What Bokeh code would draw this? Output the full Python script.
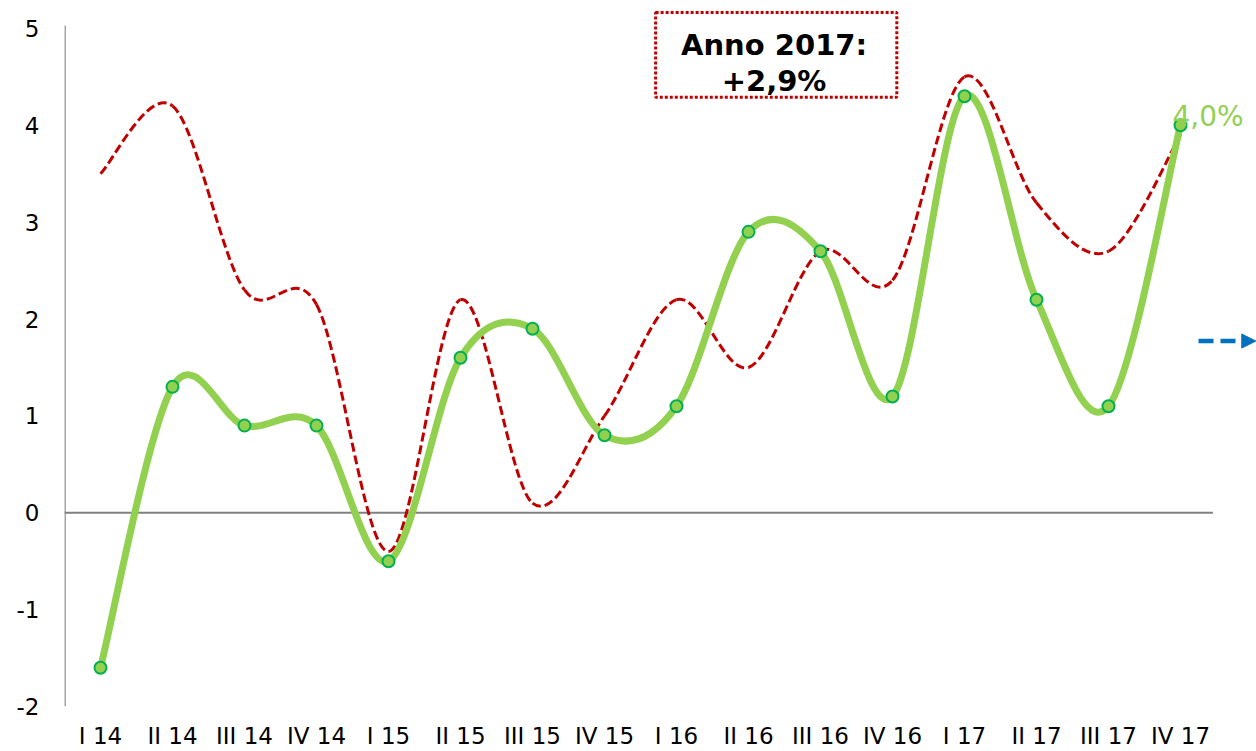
from bokeh.plotting import figure
from bokeh.models import Range1d, FixedTicker, Arrow, NormalHead
from bokeh.core.properties import value
from bokeh.embed import file_html
from bokeh.resources import INLINE

# ---------------- data ----------------
categories = ["I 14", "II 14", "III 14", "IV 14", "I 15", "II 15", "III 15", "IV 15",
              "I 16", "II 16", "III 16", "IV 16", "I 17", "II 17", "III 17", "IV 17"]
green_values = [-1.6, 1.3, 0.9, 0.9, -0.5, 1.6, 1.9, 0.8, 1.1, 2.9, 2.7, 1.2, 4.3, 2.2, 1.1, 4.0]
red_values = [3.5, 4.2, 2.3, 2.15, -0.4, 2.2, 0.1, 1.0, 2.2, 1.5, 2.7, 2.4, 4.5, 3.2, 2.7, 3.9]
y_ticks = [-2, -1, 0, 1, 2, 3, 4, 5]
y_tick_labels = ["-2", "-1", "0", "1", "2", "3", "4", "5"]
box_lines = ["Anno 2017:", "+2,9%"]
last_label = "4,0%"

# ---------------- layout constants ----------------
W, H = 1256, 751
BORDER_LEFT, BORDER_BOTTOM = 64, 44
FRAME_W, FRAME_H = W - BORDER_LEFT, H - BORDER_BOTTOM
PX_PER_CAT = 72.0
PX_PER_UNIT = 97.0
Y_MIN = -2

x_start = -0.5
x_end = x_start + FRAME_W / PX_PER_CAT
y_start = Y_MIN
y_end = Y_MIN + FRAME_H / PX_PER_UNIT

xs = list(range(len(categories)))


def smooth_segments(xv, yv):
    """Bezier control points reproducing a spreadsheet 'smoothed line'."""
    n = len(xv)
    seg = dict(x0=[], y0=[], x1=[], y1=[], cx0=[], cy0=[], cx1=[], cy1=[])
    for i in range(n - 1):
        im = i - 1 if i > 0 else i
        ip = i + 2 if i + 2 < n else i + 1
        seg["x0"].append(xv[i]); seg["y0"].append(yv[i])
        seg["x1"].append(xv[i + 1]); seg["y1"].append(yv[i + 1])
        seg["cx0"].append(xv[i] + (xv[i + 1] - xv[im]) / 6.0)
        seg["cy0"].append(yv[i] + (yv[i + 1] - yv[im]) / 6.0)
        seg["cx1"].append(xv[i + 1] - (xv[ip] - xv[i]) / 6.0)
        seg["cy1"].append(yv[i + 1] - (yv[ip] - yv[i]) / 6.0)
    return seg


p = figure(width=W, height=H, output_backend="svg", toolbar_location=None,
           x_range=Range1d(x_start, x_end), y_range=Range1d(y_start, y_end),
           min_border_left=BORDER_LEFT, min_border_bottom=BORDER_BOTTOM,
           min_border_top=0, min_border_right=0)
p.outline_line_color = None
p.xgrid.visible = False
p.ygrid.visible = False
p.background_fill_color = "white"
p.border_fill_color = "white"

# axes
p.xaxis.ticker = FixedTicker(ticks=xs)
p.xaxis.major_label_overrides = {i: c for i, c in enumerate(categories)}
p.xaxis.axis_line_color = None
p.xaxis.major_tick_line_color = None
p.xaxis.minor_tick_line_color = None
p.xaxis.major_tick_out = 0
p.xaxis.major_tick_in = 0
p.xaxis.major_label_standoff = 16
p.xaxis.major_label_text_font = "DejaVu Sans"
p.xaxis.major_label_text_font_size = "23px"
p.xaxis.major_label_text_color = "#000000"

p.yaxis.ticker = FixedTicker(ticks=y_ticks)
p.yaxis.major_label_overrides = {t: s for t, s in zip(y_ticks, y_tick_labels)}
p.yaxis.axis_line_color = None
p.yaxis.major_tick_line_color = None
p.yaxis.minor_tick_line_color = None
p.yaxis.major_tick_out = 0
p.yaxis.major_tick_in = 0
p.yaxis.major_label_standoff = 25
p.yaxis.major_label_text_font = "DejaVu Sans"
p.yaxis.major_label_text_font_size = "23px"
p.yaxis.major_label_text_color = "#000000"

# axis lines drawn as in the original (vertical grey axis, horizontal zero line)
p.segment(x0=[x_start], y0=[min(y_ticks)], x1=[x_start], y1=[max(y_ticks) + 0.03],
          line_color="#A6A6A6", line_width=3)
p.segment(x0=[x_start], y0=[0], x1=[len(categories) - 0.55], y1=[0],
          line_color="#808080", line_width=2)

# red dashed smoothed series
rs = smooth_segments(xs, red_values)
p.bezier(**rs, line_color="#C00000", line_width=3, line_dash="9 4")

# green smoothed series
gs = smooth_segments(xs, green_values)
p.bezier(**gs, line_color="#92D050", line_width=7, line_cap="round")
p.scatter(xs, green_values, size=12, marker="circle", fill_color="#92D050",
          line_color="#00B050", line_width=2)

# last value label
p.text(x=[xs[-1]], y=[green_values[-1]], text=[last_label], x_offset=-8, y_offset=-9,
       text_baseline="alphabetic", text_align="left", text_color="#92D050",
       text_font=value("DejaVu Sans"), text_font_size="28px")

# annotation box
box_l, box_r, box_t, box_b = 7.71, 11.06, 5.165, 4.29
p.quad(left=[box_l], right=[box_r], top=[box_t], bottom=[box_b], fill_color="white",
       line_color="#C00000", line_width=3, line_dash="3 2")
bx = (box_l + box_r) / 2 - 0.03
p.text(x=[bx, bx], y=[4.825, 4.454], text=box_lines, text_align="center",
       text_baseline="alphabetic", text_color="#000000", text_font=value("DejaVu Sans"),
       text_font_style="bold", text_font_size="29px")

# blue dashed arrow at right edge
p.add_layout(Arrow(x_start=15.25, y_start=1.773, x_end=x_end - 0.01, y_end=1.773,
                   line_color="#0070C0", line_width=4.5, line_dash="15 7",
                   end=NormalHead(size=14, fill_color="#0070C0", line_color="#0070C0")))

open("out.html", "w").write(file_html(p, INLINE))
